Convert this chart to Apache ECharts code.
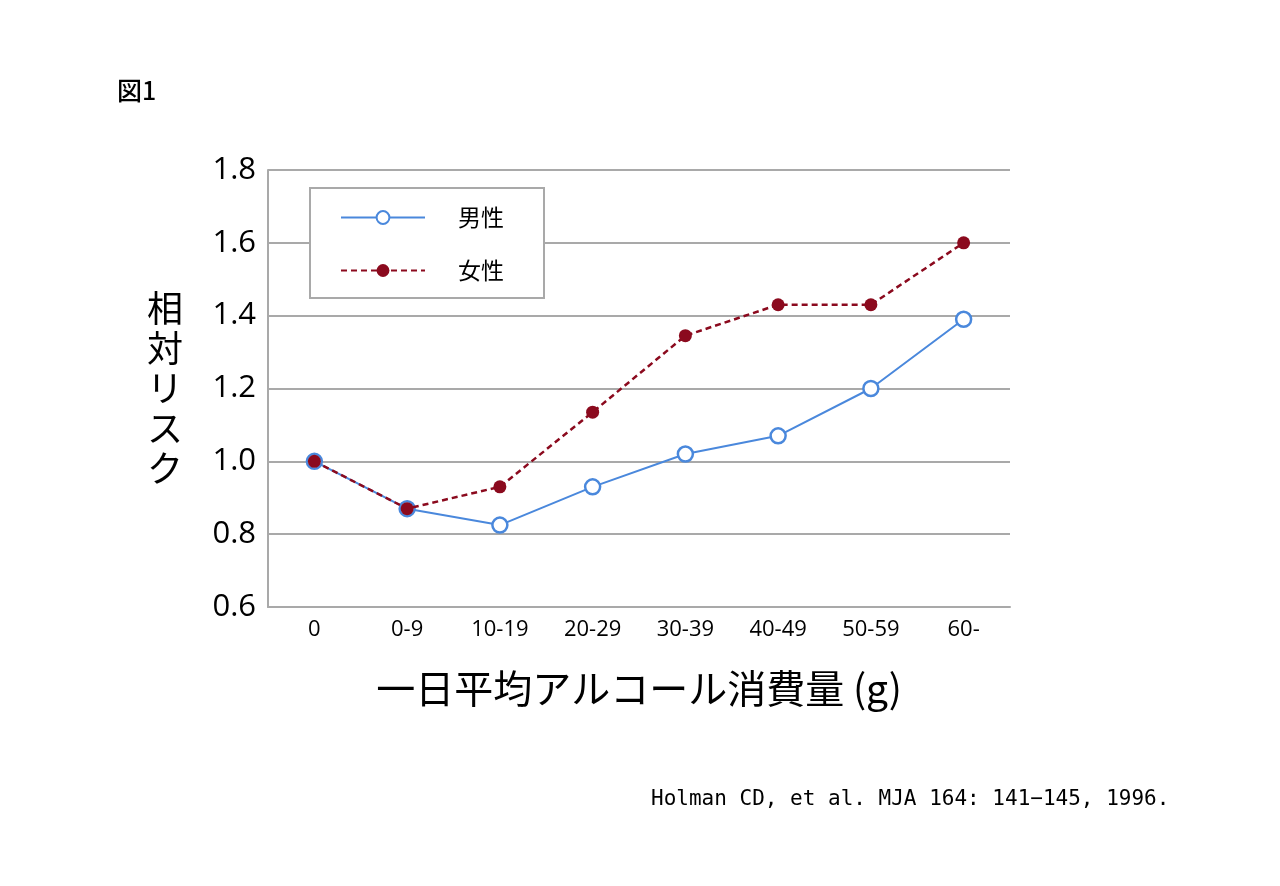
<!DOCTYPE html>
<html>
<head>
<meta charset="utf-8">
<script src="https://cdn.jsdelivr.net/npm/echarts@6/dist/echarts.min.js"></script>
<style>
  html, body { margin: 0; padding: 0; background: #fff; }
  #chart { width: 1280px; height: 886px; }
</style>
</head>
<body>
<div id="chart"></div>
<script>
// 一日平均アルコール消費量 (g) の区分
const categories = ["0", "0-9", "10-19", "20-29", "30-39", "40-49", "50-59", "60-"];
const maleRisk = [1.0, 0.87, 0.825, 0.93, 1.02, 1.07, 1.2, 1.39];
const femaleRisk = [1.0, 0.87, 0.93, 1.135, 1.345, 1.43, 1.43, 1.6];

const blue = "#4a88dc";
const red = "#8b0a1e";
const gray = "#a9a9a9";
const jp = "'Noto Sans CJK JP', 'Noto Sans', sans-serif";

const chart = echarts.init(document.getElementById("chart"));

chart.setOption({
  animation: false,
  title: [
    {
      text: "図1",
      left: 112,
      top: 73,
      textStyle: { fontFamily: jp, fontSize: 25, fontWeight: 500, color: "#000" },
    },
    {
      text: "Holman CD, et al. MJA 164: 141−145, 1996.",
      left: 646,
      top: 784,
      textStyle: { fontFamily: "'DejaVu Sans Mono', monospace", fontSize: 21, fontWeight: "normal", color: "#000" },
    },
  ],
  legend: {
    orient: "vertical",
    left: 310,
    top: 188,
    padding: [18, 40, 16, 30],
    itemWidth: 84,
    itemHeight: 16,
    itemGap: 30,
    borderColor: gray,
    borderWidth: 2,
    backgroundColor: "#fff",
    textStyle: { fontFamily: jp, fontSize: 23, color: "#000", padding: [0, 0, 0, 28] },
    data: ["男性", "女性"],
  },
  grid: { left: 268, right: 270, top: 170, bottom: 279 },
  xAxis: {
    type: "category",
    data: categories,
    boundaryGap: true,
    name: "一日平均アルコール消費量 (g)",
    nameLocation: "middle",
    nameGap: 62,
    nameTextStyle: { fontFamily: jp, fontSize: 39, color: "#000" },
    axisLine: { lineStyle: { color: gray, width: 2 } },
    axisTick: { inside: true, length: 10, lineStyle: { color: gray, width: 2 } },
    axisLabel: { fontFamily: "'Open Sans', sans-serif", fontSize: 22, color: "#000", margin: 12 },
  },
  yAxis: {
    type: "value",
    min: 0.6,
    max: 1.8,
    interval: 0.2,
    name: "相\n対\nリ\nス\nク",
    nameLocation: "middle",
    nameGap: 85,
    nameRotate: 0,
    nameTextStyle: { fontFamily: jp, fontSize: 36, color: "#000", lineHeight: 40 },
    axisLine: { show: true, lineStyle: { color: gray, width: 2 } },
    axisTick: { show: false },
    splitLine: { lineStyle: { color: gray, width: 2 } },
    axisLabel: {
      fontFamily: "'Open Sans', sans-serif",
      fontSize: 31,
      color: "#000",
      margin: 12,
      formatter: (v) => v.toFixed(1),
    },
  },
  series: [
    {
      name: "男性",
      type: "line",
      data: maleRisk,
      symbol: "circle",
      symbolSize: 15,
      lineStyle: { color: blue, width: 2 },
      itemStyle: { color: "#fff", borderColor: blue, borderWidth: 2.5 },
      z: 2,
    },
    {
      name: "女性",
      type: "line",
      data: femaleRisk,
      symbol: "circle",
      symbolSize: 13,
      lineStyle: { color: red, width: 2.5, type: [6, 4] },
      itemStyle: { color: red, borderWidth: 0 },
      z: 3,
    },
  ],
});
</script>
</body>
</html>
